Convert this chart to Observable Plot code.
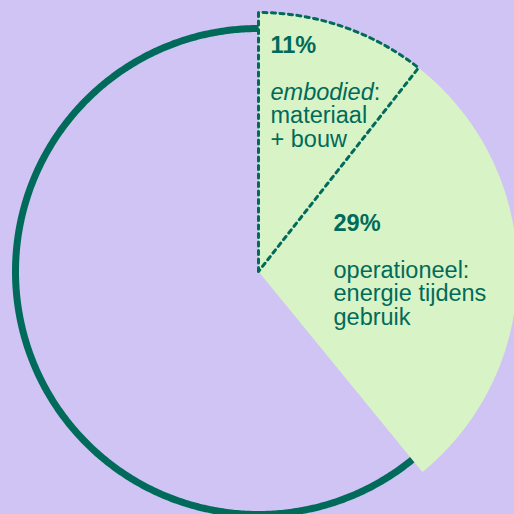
<!DOCTYPE html>
<html><head><meta charset="utf-8">
<script src="https://cdn.jsdelivr.net/npm/d3@7"></script>
<script src="https://cdn.jsdelivr.net/npm/@observablehq/plot@0.6"></script>
<style>html,body{margin:0;padding:0;background:#cfc4f3;overflow:hidden}</style>
</head><body><div id="chart"></div>
<script>
// data
const categories = ["embodied", "operationeel", "overig"];
const shares = [10.6, 28.5, 60.9];
const pctLabels = ["11%", "29%"];
const descLines = [["embodied:", "materiaal", "+ bouw"], ["operationeel:", "energie tijdens", "gebruik"]];

// style
const BG = "#cfc4f3", LIGHT = "#d8f4c6", DARK = "#006b5a";
const FONT = '"Liberation Sans", Arial, sans-serif';
const FS = 23.5, LH = 23.6;
const R_SLICE = 259, R_RING = 243;

const arcs = d3.pie().sort(null).value(d => d)(shares);
const pt = (r, a) => ({x: r * Math.sin(a), y: r * Math.cos(a)});

function arcPoints(r, a0, a1) {
  const n = Math.max(2, Math.ceil((a1 - a0) / (Math.PI / 360)));
  return d3.range(n + 1).map(i => pt(r, a0 + (a1 - a0) * i / n));
}

// filled slices 0 and 1
const slicePts = [];
[0, 1].forEach(i => {
  const a = arcs[i];
  const pts = [{x: 0, y: 0}, ...arcPoints(R_SLICE, a.startAngle, a.endAngle), {x: 0, y: 0}];
  pts.forEach(p => slicePts.push({...p, slice: categories[i]}));
});
// dotted outline of slice 0
const a0 = arcs[0];
const outlinePts = [{x: 0, y: 0}, ...arcPoints(R_SLICE, a0.startAngle, a0.endAngle), {x: 0, y: 0}];
// ring
const ringPts = arcPoints(R_RING, 0, 2 * Math.PI);

// labels
const anchors = [{x: 12, y: 219}, {x: 75, y: 41}]; // baseline of first line (data units)
const rows = [];
[0, 1].forEach(i => {
  rows.push({x: anchors[i].x, y: anchors[i].y + 0.71 * FS, text: pctLabels[i], kind: "pct"});
  descLines[i].forEach((t, j) => {
    const y = anchors[i].y - (j + 2) * LH + 0.71 * FS;
    if (i === 0 && j === 0) {
      rows.push({x: anchors[i].x, y, text: "embodied", kind: "ital"});
      rows.push({x: anchors[i].x, y, text: ":", kind: "colon"});
    } else rows.push({x: anchors[i].x, y, text: t, kind: "desc"});
  });
});
const ctx = document.createElement("canvas").getContext("2d");
ctx.font = `italic ${FS}px ${FONT}`;
const italW = ctx.measureText("embodied").width;

const common = {lineAnchor: "top", textAnchor: "start", fontSize: FS, fill: DARK, fontFamily: FONT};

const chart = Plot.plot({
  width: 514, height: 514, margin: 0,
  style: {background: BG, fontFamily: FONT},
  x: {type: "linear", domain: [-258, 256], range: [0, 514], axis: null},
  y: {type: "linear", domain: [-243, 271], range: [514, 0], axis: null},
  marks: [
    Plot.line(ringPts, {x: "x", y: "y", stroke: DARK, strokeWidth: 7, curve: "linear"}),
    Plot.line(slicePts, {x: "x", y: "y", z: "slice", fill: LIGHT, stroke: "none", curve: "linear"}),
    Plot.line(outlinePts, {x: "x", y: "y", stroke: DARK, strokeWidth: 3, strokeDasharray: "4,4.5", curve: "linear"}),
    Plot.text(rows.filter(d => d.kind === "pct"), {x: "x", y: "y", text: "text", ...common, fontWeight: "bold"}),
    Plot.text(rows.filter(d => d.kind === "desc"), {x: "x", y: "y", text: "text", ...common}),
    Plot.text(rows.filter(d => d.kind === "ital"), {x: "x", y: "y", text: "text", ...common, fontStyle: "italic"}),
    Plot.text(rows.filter(d => d.kind === "colon"), {x: "x", y: "y", text: "text", ...common, dx: italW})
  ]
});
document.getElementById("chart").appendChild(chart);
</script>
</body></html>
